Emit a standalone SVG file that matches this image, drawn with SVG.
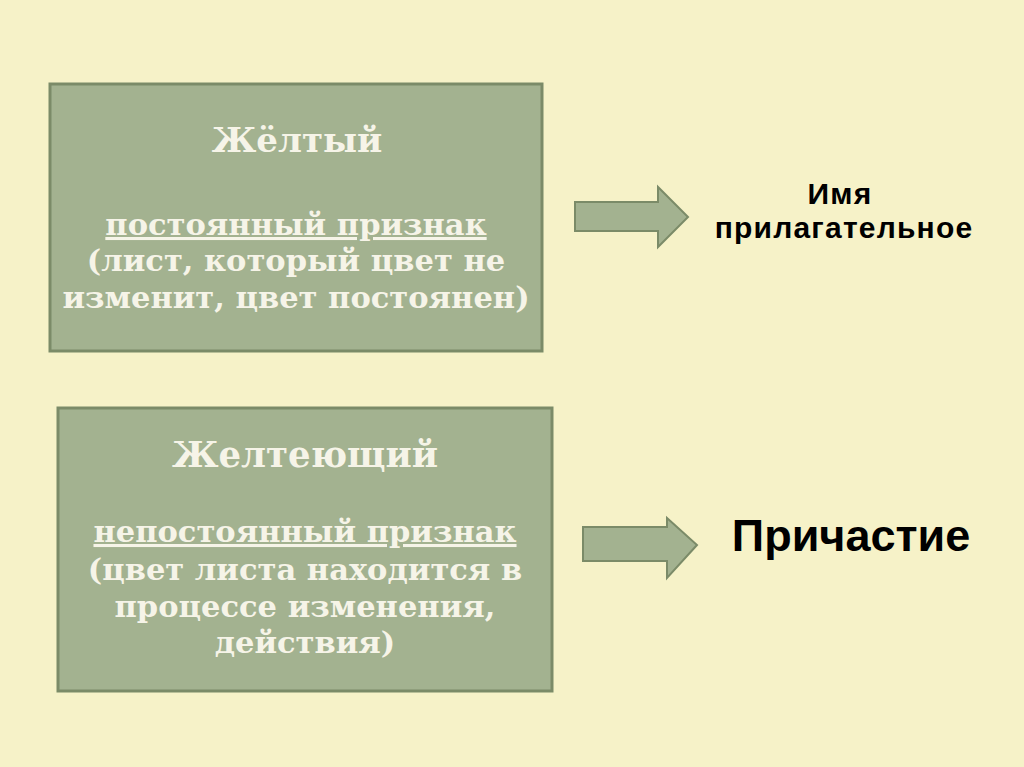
<svg xmlns="http://www.w3.org/2000/svg" width="1024" height="767" viewBox="0 0 1024 767">
<style>
.box{fill:#a3b290;stroke:#7b8b68;stroke-width:3}
.arr{fill:#a3b290;stroke:#7b8b68;stroke-width:2}
.t{font-family:"DejaVu Serif","Liberation Serif",serif;font-weight:bold;fill:#f6f4e8;text-anchor:middle;font-size:30.5px}
.h{font-size:34px}
.u{text-decoration:underline}
.s{font-family:"Liberation Sans",Arial,sans-serif;font-weight:bold;fill:#000;text-anchor:middle}
</style>
<rect x="0" y="0" width="1024" height="767" fill="#f6f2c8"/>
<g id="node-yellow">
<rect class="box" x="50" y="84" width="492" height="267"/>
<text class="t h" x="297" y="152">Жёлтый</text>
<text class="t u" x="296" y="235">постоянный признак</text>
<text class="t" x="296" y="271">(лист, который цвет не</text>
<text class="t" x="296" y="308">изменит, цвет постоянен)</text>
</g>
<g id="node-yellowing">
<rect class="box" x="58" y="408" width="494" height="283"/>
<text class="t h" x="305" y="467" style="font-size:35.5px">Желтеющий</text>
<text class="t u" x="305" y="542">непостоянный признак</text>
<text class="t" x="305" y="580">(цвет листа находится в</text>
<text class="t" x="305" y="617">процессе изменения,</text>
<text class="t" x="305" y="653">действия)</text>
</g>
<g id="connectors">
<polygon class="arr" points="575,202 658,202 658,187 688,217 658,247 658,231 575,231"/>
<polygon class="arr" points="583,527 667,527 667,518 697,545 667,578 667,561 583,561"/>
</g>
<g id="node-adjective">
<text class="s" x="840" y="204" font-size="30" letter-spacing="1.2">Имя</text>
<text class="s" x="844" y="238" font-size="30" letter-spacing="1.2">прилагательное</text>
</g>
<g id="node-participle">
<text class="s" x="851" y="551" font-size="45">Причастие</text>
</g>
</svg>
